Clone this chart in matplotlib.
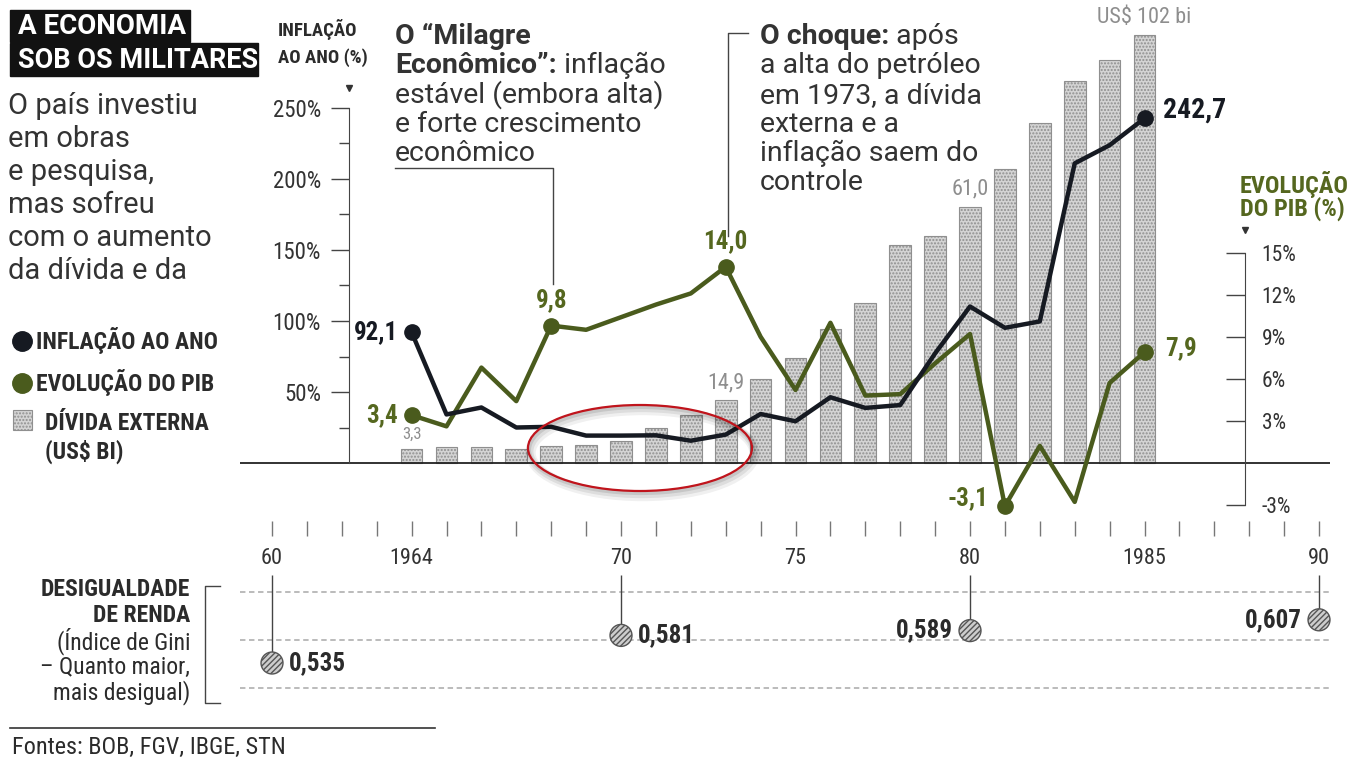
import matplotlib.pyplot as plt
from matplotlib.patches import Rectangle, Ellipse
from matplotlib.lines import Line2D
from matplotlib.transforms import Affine2D

# dados
anos = list(range(1964, 1986))
inflacao = [92.1, 34.2, 39.1, 25.0, 25.5, 19.3, 19.3, 19.5, 15.7, 20.0, 34.5,
            29.4, 46.3, 38.8, 40.8, 77.2, 110.2, 95.2, 99.7, 211.0, 223.8, 242.7]
pib = [3.4, 2.6, 6.8, 4.4, 9.8, 9.5, 10.4, 11.3, 12.1, 14.0, 9.0,
       5.2, 10.0, 4.8, 4.9, 7.1, 9.2, -3.1, 1.2, -2.8, 5.7, 7.9]
divida = [3.3, 3.8, 3.8, 3.4, 4.1, 4.4, 5.3, 8.3, 11.5, 14.9, 20.0,
          25.0, 32.0, 38.0, 52.0, 54.0, 61.0, 70.0, 81.0, 91.0, 96.0, 102.0]

gini_anos = [1960, 1970, 1980, 1990]
gini = [0.535, 0.581, 0.589, 0.607]

rotulos_anos = {1960: '60', 1964: '1964', 1970: '70', 1975: '75',
                1980: '80', 1985: '1985', 1990: '90'}
infl_ticks = [50, 100, 150, 200, 250]
pib_ticks = [-3, 3, 6, 9, 12, 15]

W, H = 1361, 760
PRETO = '#161a22'
VERDE = '#4a5b1d'
VERDE_TXT = '#55671f'
CINZA = '#8e8e8e'
TXT = '#2b2b2b'
NARROW = ['Roboto Condensed', 'Roboto', 'DejaVu Sans']
BODY = ['Roboto', 'DejaVu Sans']


def virg(v, nd=1):
    return f"{v:.{nd}f}".replace('.', ',')


fig = plt.figure(figsize=(W / 100, H / 100), dpi=100)
pix = Affine2D().scale(1 / W, -1 / H).translate(0, 1) + fig.transFigure


def ftext(x, y, s, **kw):
    return fig.text(x / W, 1 - y / H, s, **kw)


def fline(xs, ys, **kw):
    fig.add_artist(Line2D(xs, ys, transform=pix, **kw))


# eixo principal (barras da dívida)
ax = fig.add_axes([240 / W, 1 - 536 / H, 1090 / W, 526 / H])
ax.set_xlim(1959.083, 1990.315)
ax.set_ylim(-17.381, 107.857)
ax.bar(anos, divida, width=0.62, color='#d4d4d4', edgecolor='#8f8f8f',
       hatch='.....', lw=0.8, zorder=2)
ax.axhline(0, color='#222', lw=1.3, zorder=3)
for s in ax.spines.values():
    s.set_visible(False)
ax.set_yticks([])
xt = list(range(1960, 1991))
ax.set_xticks(xt)
ax.set_xticklabels([rotulos_anos.get(a, '') for a in xt])
ax.tick_params(axis='x', direction='in', length=11, width=1, color='#777',
               pad=9, labelsize=16, labelcolor='#333')
for lb in ax.get_xticklabels():
    lb.set_fontfamily(NARROW)

# rótulos das barras
for i, txt, fs in [(0, '3,3', 12), (9, '14,9', 16), (16, '61,0', 16),
                   (21, 'US$ 102 bi', 16)]:
    ax.annotate(txt, (anos[i], divida[i]), xytext=(0, 5),
                textcoords='offset points', ha='center', va='bottom',
                color=CINZA, fontsize=fs, family=NARROW)

# PIB
axg = ax.twinx()
axg.set_ylim(-5.238, 32.357)
axg.plot(anos, pib, color=VERDE, lw=3.2, solid_joinstyle='round', zorder=4)
marc = [0, 4, 9, 17, 21]
axg.plot([anos[i] for i in marc], [pib[i] for i in marc], 'o', ms=11,
         color=VERDE, zorder=5)
for k in ['top', 'bottom', 'left']:
    axg.spines[k].set_visible(False)
axg.spines['right'].set_position(('data', 1987.88))
axg.spines['right'].set_bounds(-3, 15)
axg.spines['right'].set_color('#444')
axg.set_yticks(pib_ticks)
axg.set_yticklabels([f"{v}%" for v in pib_ticks])
axg.tick_params(axis='y', direction='in', length=14, width=1, color='#444',
                pad=12, labelsize=15.5, labelcolor='#333')
for lb in axg.get_yticklabels():
    lb.set_fontfamily(NARROW)
axg.plot([1987.88], [16.6], marker='v', ms=4, color='#333', clip_on=False)

rot_pib = [(0, (-10, 0), 'right', 'center'), (4, (0, 10), 'center', 'bottom'),
           (9, (0, 10), 'center', 'bottom'), (17, (-12, 6), 'right', 'center'),
           (21, (15, 3), 'left', 'center')]
for i, off, ha, va in rot_pib:
    axg.annotate(virg(pib[i]), (anos[i], pib[i]), xytext=off,
                 textcoords='offset points', ha=ha, va=va, color=VERDE_TXT,
                 fontsize=18, weight='bold', family=NARROW)

# inflação
axi = ax.twinx()
axi.set_ylim(-51.4, 319.0)
axi.yaxis.tick_left()
axi.plot(anos, inflacao, color=PRETO, lw=3.2, solid_joinstyle='round', zorder=4)
axi.plot([anos[0], anos[-1]], [inflacao[0], inflacao[-1]], 'o', ms=11,
         color=PRETO, zorder=5)
for k in ['top', 'bottom', 'right']:
    axi.spines[k].set_visible(False)
axi.spines['left'].set_position(('data', 1962.2))
axi.spines['left'].set_bounds(0, 250)
axi.spines['left'].set_color('#444')
axi.set_yticks(infl_ticks)
axi.set_yticklabels([f"{v}%" for v in infl_ticks])
axi.set_yticks([25, 75, 125, 175, 225], minor=True)
axi.tick_params(axis='y', which='major', direction='out', length=13, width=1,
                color='#444', pad=7, labelsize=16.5, labelcolor='#333')
axi.tick_params(axis='y', which='minor', direction='out', length=7, width=1,
                color='#444')
for lb in axi.get_yticklabels():
    lb.set_fontfamily(NARROW)
axi.plot([1962.2], [264], marker='v', ms=4, color='#333', clip_on=False)

axi.annotate(virg(inflacao[0]), (anos[0], inflacao[0]), xytext=(-10, 0),
             textcoords='offset points', ha='right', va='center', color=PRETO,
             fontsize=18, weight='bold', family=NARROW)
axi.annotate(virg(inflacao[-1]), (anos[-1], inflacao[-1]), xytext=(13, 6),
             textcoords='offset points', ha='left', va='center', color=PRETO,
             fontsize=20, weight='bold', family=NARROW)

# desigualdade (Gini)
axn = fig.add_axes([240 / W, 1 - 705 / H, 1090 / W, 130 / H])
axn.set_xlim(ax.get_xlim())
axn.set_ylim(0.465, 0.6817)
axn.axis('off')
for v in [0.6533, 0.5733, 0.4933]:
    axn.axhline(v, color='#b5b5b5', lw=1.3, ls=(0, (3, 2)), zorder=1)
axn.vlines(gini_anos, gini, 0.6817, color='#444', lw=1, zorder=2)
axn.scatter(gini_anos, gini, s=250, facecolor='#cdcdcd', edgecolor='#555',
            hatch='//////', lw=1, zorder=3, clip_on=False)
for a, g in zip(gini_anos, gini):
    esq = a in (1980, 1990)
    axn.annotate(virg(g, 3), (a, g), xytext=(-12 if esq else 12, 0),
                 textcoords='offset points', ha='right' if esq else 'left',
                 va='center', color=TXT, fontsize=18, weight='bold',
                 family=NARROW)

# título
fig.add_artist(Rectangle((10, 10), 180, 32, transform=pix, color='#121212'))
fig.add_artist(Rectangle((10, 43), 248, 33, transform=pix, color='#121212'))
ftext(18, 27, 'A ECONOMIA', color='white', fontsize=20, weight='bold',
      family=BODY, va='center')
ftext(18, 60, 'SOB OS MILITARES', color='white', fontsize=19.5, weight='bold',
      family=BODY, va='center')

ftext(8, 92, 'O país investiu\nem obras\ne pesquisa,\nmas sofreu\n'
      'com o aumento\nda dívida e da', color='#333', fontsize=21,
      family=BODY, va='top', linespacing=1.23)

# legenda
fline([22], [341], marker='o', ms=14, color=PRETO)
fline([22], [383], marker='o', ms=14, color=VERDE)
fig.add_artist(Rectangle((13, 410), 19, 20, transform=pix, facecolor='#d4d4d4',
                         edgecolor='#8f8f8f', hatch='.....', lw=0.8))
ftext(36, 341, 'INFLAÇÃO AO ANO', color=TXT, fontsize=17, weight='bold',
      family=NARROW, va='center')
ftext(36, 383, 'EVOLUÇÃO DO PIB', color=TXT, fontsize=17, weight='bold',
      family=NARROW, va='center')
ftext(45, 424, 'DÍVIDA EXTERNA', color=TXT, fontsize=17, weight='bold',
      family=NARROW, va='center')
ftext(45, 452, '(US$ BI)', color=TXT, fontsize=17, weight='bold',
      family=NARROW, va='center')

# títulos dos eixos
ftext(278, 29, 'INFLAÇÃO', color=TXT, fontsize=13.5, weight='bold',
      family=NARROW, va='center')
ftext(278, 58, 'AO ANO (%)', color=TXT, fontsize=13.5, weight='bold',
      family=NARROW, va='center')
ftext(1240, 184, 'EVOLUÇÃO', color=VERDE_TXT, fontsize=17.5, weight='bold',
      family=NARROW, va='center')
ftext(1240, 209, 'DO PIB (%)', color=VERDE_TXT, fontsize=17.5, weight='bold',
      family=NARROW, va='center')

# anotações com trechos em negrito
rend = fig.canvas.get_renderer()


def linha_mista(x, y, partes, fs=20.5):
    for txt, peso in partes:
        t = ftext(x, y, txt, color='#333', fontsize=fs, weight=peso,
                  family=BODY, va='baseline')
        x = t.get_window_extent(renderer=rend).x1


milagre = [[('O “Milagre', 'bold')],
           [('Econômico”:', 'bold'), (' inflação', 'normal')],
           [('estável (embora alta)', 'normal')],
           [('e forte crescimento', 'normal')],
           [('econômico', 'normal')]]
for k, partes in enumerate(milagre):
    linha_mista(395, 44 + 29.3 * k, partes)

choque = [[('O choque:', 'bold'), (' após', 'normal')],
          [('a alta do petróleo', 'normal')],
          [('em 1973, a dívida', 'normal')],
          [('externa e a', 'normal')],
          [('inflação saem do', 'normal')],
          [('controle', 'normal')]]
for k, partes in enumerate(choque):
    linha_mista(760, 44 + 29.3 * k, partes)

fline([395, 553, 553], [168, 168, 284], color='#444', lw=1)
fline([748, 728, 728], [33, 33, 236], color='#444', lw=1)

# colchete do Gini e textos
fline([220, 205, 205, 220], [586, 586, 703, 703], color='#444', lw=1)
for yy, txt, peso in [(590, 'DESIGUALDADE', 'bold'), (615, 'DE RENDA', 'bold'),
                      (641, '(Índice de Gini', 'normal'),
                      (667, '– Quanto maior,', 'normal'),
                      (693, 'mais desigual)', 'normal')]:
    ftext(190, yy, txt, color=TXT, fontsize=17, weight=peso, family=NARROW,
          ha='right', va='center')

# rodapé
fline([10, 435], [728, 728], color='#333', lw=1.2)
ftext(12, 747, 'Fontes: BOB, FGV, IBGE, STN', color=TXT, fontsize=17.5,
      family=NARROW, va='center')

# destaque em vermelho
for d, a in [(5, 0.06), (3.5, 0.08), (2, 0.1)]:
    fig.add_artist(Ellipse((640 + d * 0.5, 448 + d), 224, 86, transform=pix,
                           fill=False, edgecolor='black', lw=d * 1.5, alpha=a))
fig.add_artist(Ellipse((640, 448), 224, 86, transform=pix, fill=False,
                       edgecolor='#c0141c', lw=1.6))

fig.savefig('out.png', dpi=100)
